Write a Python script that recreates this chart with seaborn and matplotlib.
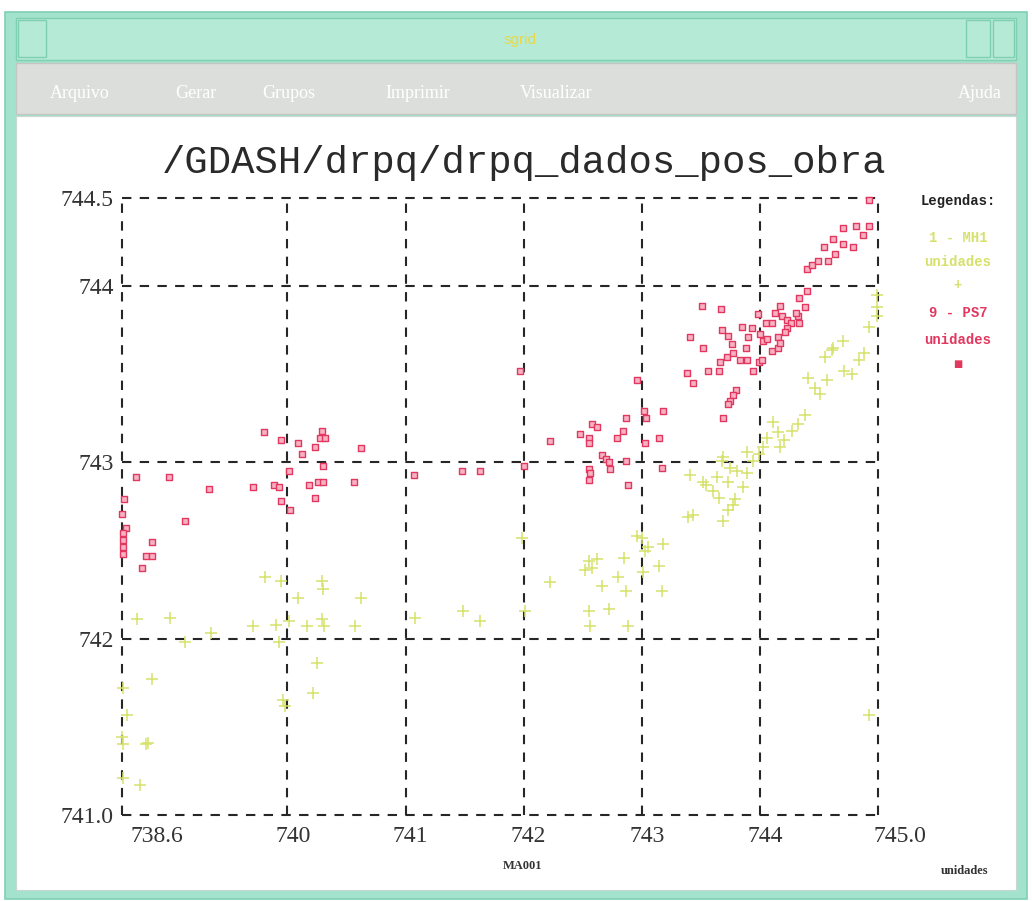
import matplotlib
matplotlib.use("Agg")
import matplotlib.pyplot as plt
from matplotlib.patches import Rectangle
from matplotlib.transforms import ScaledTranslation
import seaborn as sns
import pandas as pd

# ---------------- data ----------------
title = "/GDASH/drpq/drpq_dados_pos_obra"
x_ticks = [738.6, 740, 741, 742, 743, 744, 745.0]
x_tick_labels = ["738.6", "740", "741", "742", "743", "744", "745.0"]
y_ticks = [741.0, 742, 743, 744, 744.5]
y_tick_labels = ["741.0", "742", "743", "744", "744.5"]
menu_items = ["Arquivo", "Gerar", "Grupos", "Imprimir", "Visualizar"]

ps7_x = [738.62, 738.60, 738.63, 738.61, 738.61, 738.61, 738.61, 738.72, 739.00, 739.34,
         739.13, 738.85, 738.80, 738.85, 738.77, 739.71, 739.89, 739.93, 739.95, 740.02,
         740.01, 739.80, 739.95, 740.09, 740.12, 740.23, 740.28, 740.29, 740.32, 740.62,
         740.30, 740.18, 740.26, 740.30, 740.56, 740.23,
         741.07, 741.48, 741.63, 742.00, 741.97, 742.22, 742.48, 742.55, 742.55, 742.58,
         742.62, 742.55, 742.56, 742.55, 742.66, 742.70, 742.72, 742.73, 742.79, 742.84,
         742.87, 742.87, 742.88, 742.96, 743.02, 743.04, 743.03, 743.15, 743.18, 743.17,
         743.38, 743.43, 743.41, 743.51, 743.67, 743.52, 743.56, 743.65, 743.69, 743.80,
         743.77, 743.75, 743.73, 743.66, 743.72, 743.77, 743.76, 743.68, 743.73, 743.85,
         743.93, 743.90, 743.88, 743.83, 743.89, 743.94, 743.98, 744.00, 743.99, 744.02,
         744.03, 744.06, 744.05, 744.10, 744.13, 744.10, 744.15, 744.15, 744.17, 744.17,
         744.19, 744.23, 744.26, 744.23, 744.21, 744.32, 744.33, 744.31, 744.33, 744.38,
         744.40, 744.40, 744.44, 744.49, 744.58, 744.54, 744.64, 744.62, 744.70, 744.79,
         744.70, 744.81, 744.92, 744.87, 744.92]
ps7_y = [742.79, 742.71, 742.63, 742.60, 742.56, 742.52, 742.48, 742.92, 742.92, 742.85,
         742.67, 742.55, 742.47, 742.47, 742.40, 742.86, 742.87, 742.86, 742.78, 742.73,
         742.95, 743.17, 743.13, 743.11, 743.05, 743.09, 743.14, 743.18, 743.14, 743.08,
         742.98, 742.87, 742.89, 742.89, 742.89, 742.80,
         742.93, 742.95, 742.95, 742.98, 743.52, 743.12, 743.16, 743.14, 743.11, 743.22,
         743.20, 742.96, 742.94, 742.90, 743.04, 743.02, 743.00, 742.96, 743.14, 743.18,
         743.25, 743.01, 742.87, 743.47, 743.29, 743.25, 743.11, 743.14, 743.29, 742.97,
         743.51, 743.45, 743.71, 743.89, 743.87, 743.65, 743.52, 743.52, 743.25, 743.41,
         743.38, 743.35, 743.33, 743.57, 743.60, 743.62, 743.67, 743.75, 743.72, 743.77,
         743.76, 743.71, 743.65, 743.58, 743.58, 743.52, 743.84, 743.73, 743.57, 743.58,
         743.69, 743.70, 743.79, 743.79, 743.85, 743.63, 743.71, 743.65, 743.68, 743.89,
         743.83, 743.81, 743.79, 743.76, 743.74, 743.83, 743.79, 743.85, 743.93, 743.88,
         743.97, 744.10, 744.12, 744.14, 744.14, 744.22, 744.18, 744.27, 744.24, 744.22,
         744.33, 744.34, 744.34, 744.29, 744.49]

mh1_x = [738.73, 739.01, 739.35, 739.13, 739.71, 739.90, 740.01, 739.93, 739.81, 739.95,
         740.09, 740.29, 740.30, 740.62, 740.29, 740.31, 740.17, 740.57, 740.25, 740.22,
         739.96, 739.98, 738.85, 738.61, 738.64, 738.60, 738.61, 738.80, 738.82, 738.61,
         738.75,
         741.08, 741.49, 741.63, 742.01, 741.99, 742.22, 742.55, 742.58, 742.62, 742.52,
         742.66, 742.55, 742.72, 742.56, 742.88, 742.80, 742.87, 742.85, 743.00, 743.03,
         743.05, 743.01, 743.15, 743.18, 743.17, 742.96,
         743.41, 743.39, 743.43, 743.52, 743.60, 743.65, 743.69, 743.75, 743.81, 743.89,
         743.86, 743.77, 743.79, 743.73, 743.69, 743.68, 743.64, 743.54, 743.73, 743.94,
         743.99, 744.03, 744.06, 743.89, 744.11, 744.15, 744.17, 744.20, 744.27, 744.32,
         744.38, 744.41, 744.47, 744.51, 744.57, 744.61, 744.55, 744.70, 744.62, 744.71,
         744.78, 744.88, 744.84, 744.92, 744.99, 744.99, 744.99, 744.92]
mh1_y = [742.11, 742.12, 742.03, 741.98, 742.07, 742.08, 742.10, 741.98, 742.35, 742.33,
         742.23, 742.33, 742.28, 742.23, 742.11, 742.07, 742.07, 742.07, 741.86, 741.69,
         741.65, 741.62, 741.77, 741.72, 741.57, 741.44, 741.40, 741.40, 741.41, 741.21,
         741.17,
         742.12, 742.16, 742.10, 742.16, 742.57, 742.32, 742.44, 742.40, 742.45, 742.39,
         742.30, 742.16, 742.17, 742.07, 742.07, 742.35, 742.27, 742.46, 742.57, 742.50,
         742.52, 742.38, 742.41, 742.54, 742.27, 742.58,
         742.93, 742.69, 742.70, 742.89, 742.84, 742.80, 743.03, 742.97, 742.95, 742.94,
         742.86, 742.76, 742.79, 742.73, 742.67, 743.01, 742.92, 742.87, 742.89, 743.01,
         743.05, 743.09, 743.14, 743.06, 743.23, 743.17, 743.09, 743.13, 743.18, 743.22,
         743.27, 743.48, 743.42, 743.39, 743.47, 743.64, 743.60, 743.69, 743.65, 743.52,
         743.50, 743.62, 743.58, 743.77, 743.95, 743.88, 743.83, 741.57]

# ---------------- styling ----------------
sns.set_style("white")
plt.rcParams["font.family"] = ["Liberation Serif", "DejaVu Serif"]

W, H = 1032, 901
fig = plt.figure(figsize=(W / 100, H / 100), dpi=100)
fig.patch.set_facecolor("white")


def rect(x0, y0, x1, y1, **kw):
    fig.patches.append(Rectangle((x0 / W, 1 - y1 / H), (x1 - x0) / W, (y1 - y0) / H,
                                 transform=fig.transFigure, zorder=-5, **kw))


def ftext(x, y, s, **kw):
    fig.text(x / W, 1 - y / H, s, **kw)


# window frame
TEAL = "#a3e2cc"
TEAL_D = "#7fcfb3"
rect(5, 12, 1027, 899, facecolor=TEAL, edgecolor=TEAL_D, lw=1.2)
rect(16, 18, 1016, 60, facecolor="#b5ead6", edgecolor=TEAL_D, lw=1.0)
rect(18, 20, 46, 57, facecolor="#b5ead6", edgecolor=TEAL_D, lw=1.0)
rect(966, 20, 990, 57, facecolor="#b5ead6", edgecolor=TEAL_D, lw=1.0)
rect(993, 20, 1014, 57, facecolor="#b5ead6", edgecolor=TEAL_D, lw=1.0)
ftext(520, 40, "sgrid", ha="center", va="center", fontsize=11, color="#e8d84a",
      family="Liberation Sans")
rect(16, 63, 1016, 114, facecolor="#dcdedc", edgecolor="#c4c6c4", lw=1.0)
rect(16, 116, 1016, 890, facecolor="white", edgecolor="#c8d8d0", lw=0.8)
menu_x = [50, 175, 262, 385, 520]
for mx, item in zip(menu_x, menu_items):
    ftext(mx, 93, item, ha="left", va="center", fontsize=13, color="white",
          family="Liberation Serif")
ftext(958, 93, "Ajuda", ha="left", va="center", fontsize=13, color="white",
      family="Liberation Serif")

# plot axes
ax = fig.add_axes([122 / W, 1 - 815 / H, 756 / W, 617 / H])
ax.set_zorder(5)
ax.set_facecolor("none")

for v in x_ticks:
    ax.axvline(v, color="#262626", lw=1.5, ls=(0, (4.5, 4)), clip_on=False, zorder=1)
for v in y_ticks:
    ax.axhline(v, color="#262626", lw=1.5, ls=(0, (4.5, 4)), clip_on=False, zorder=1)

df_ps7 = pd.DataFrame({"x": ps7_x, "y": ps7_y})
df_mh1 = pd.DataFrame({"x": mh1_x, "y": mh1_y})

sns.scatterplot(data=df_mh1, x="x", y="y", marker="+", s=65, color="#d6e16a",
                linewidth=1.1, ax=ax, zorder=3, legend=False)
sns.scatterplot(data=df_ps7, x="x", y="y", marker="s", s=20, color="#f7b2c3",
                edgecolor="#e2375f", linewidth=1.0, ax=ax, zorder=4, legend=False)
for coll in ax.collections:
    coll.set_clip_on(False)

ax.set_xlim(738.6, 745.0)
ax.set_ylim(741.0, 744.5)
ax.set_xticks(x_ticks)
ax.set_xticklabels(x_tick_labels)
ax.set_yticks(y_ticks)
ax.set_yticklabels(y_tick_labels)
ax.tick_params(axis="both", length=0, labelsize=17, colors="#333333")
ax.tick_params(axis="x", pad=8)
ax.tick_params(axis="y", pad=6)
ax.set_xlabel("")
ax.set_ylabel("")
for sp in ax.spines.values():
    sp.set_visible(False)
ax.grid(False)

# shift x tick labels like the reference (ends pushed right)
xlabels = ax.get_xticklabels()
offsets = [8, 6, 5, 5, 5, 5, 22]
for i, lab in enumerate(xlabels):
    if i == 0:
        lab.set_horizontalalignment("left")
    lab.set_transform(lab.get_transform() +
                      ScaledTranslation(offsets[i] / 100, 0, fig.dpi_scale_trans))

# title and labels
ftext(524, 163, title, ha="center", va="center", fontsize=28, color="#2a2a2a",
      family="Liberation Mono")
ftext(523, 866, "MA001", ha="center", va="center", fontsize=9, fontweight="bold",
      color="#333333", family="Liberation Serif")
ftext(965, 871, "unidades", ha="center", va="center", fontsize=9, fontweight="bold",
      color="#333333", family="Liberation Serif")

# legend block
lg = dict(ha="center", va="center", fontsize=10, fontweight="bold", family="Liberation Mono")
ftext(958, 201, "Legendas:", color="#222222", **lg)
ftext(958, 238, "1 - MH1", color="#d6e16a", **lg)
ftext(958, 262, "unidades", color="#d6e16a", **lg)
ftext(958, 285, "+", color="#d6e16a", **lg)
ftext(958, 313, "9 - PS7", color="#e2375f", **lg)
ftext(958, 340, "unidades", color="#e2375f", **lg)
ftext(958, 364, "■", color="#e2375f", ha="center", va="center", fontsize=7,
      family="DejaVu Sans")

fig.savefig("out.png", dpi=100)
